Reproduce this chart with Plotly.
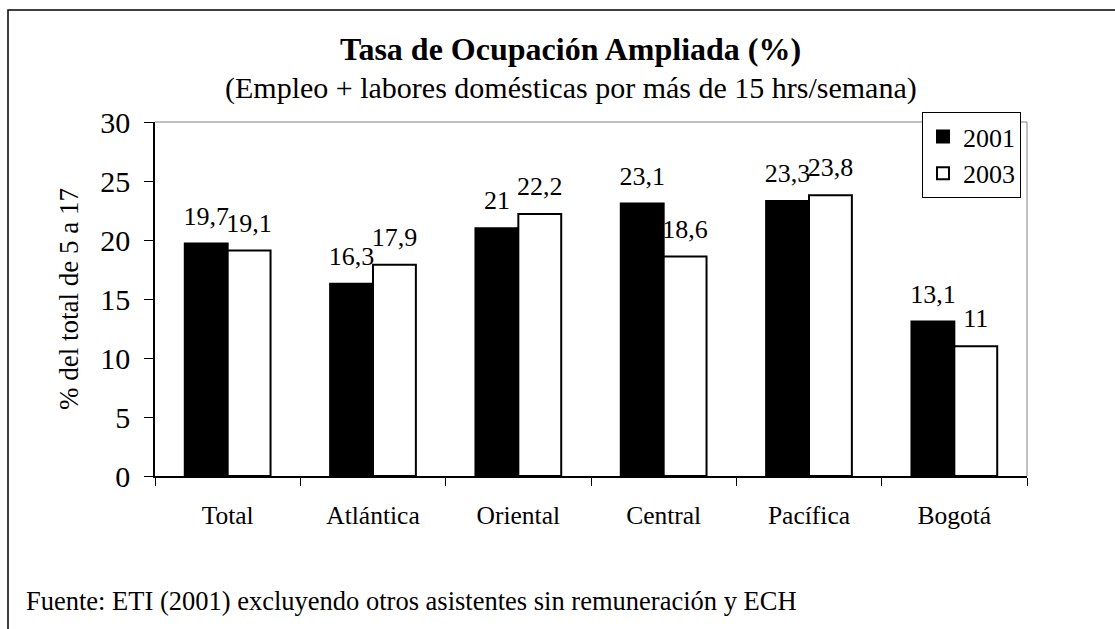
import plotly.graph_objects as go

categories = ["Total", "Atlántica", "Oriental", "Central", "Pacífica", "Bogotá"]
values_2001 = [19.7, 16.3, 21.0, 23.1, 23.3, 13.1]
values_2003 = [19.1, 17.9, 22.2, 18.6, 23.8, 11.0]
labels_2001 = ["19,7", "16,3", "21", "23,1", "23,3", "13,1"]
labels_2003 = ["19,1", "17,9", "22,2", "18,6", "23,8", "11"]
y_ticks = [0, 5, 10, 15, 20, 25, 30]

FONT = "Liberation Serif"
W, H = 1115, 629
L, R, T, B = 155, 88, 122, 153
PW, PH = W - L - R, H - T - B


def px(x):
    return (x - L) / PW


def py(y):
    return (H - B - y) / PH


fig = go.Figure()
fig.add_trace(go.Bar(
    x=categories, y=values_2001, name="2001",
    offsetgroup="a", alignmentgroup="g",
    marker=dict(color="black", line=dict(color="black", width=2)),
))
fig.add_trace(go.Bar(
    x=categories, y=values_2003, name="2003",
    offsetgroup="b", alignmentgroup="g",
    marker=dict(color="white", line=dict(color="black", width=2)),
))
for vals, labs, grp in [(values_2001, labels_2001, "a"), (values_2003, labels_2003, "b")]:
    fig.add_trace(go.Scatter(
        x=categories, y=vals, text=labs, mode="markers+text",
        offsetgroup=grp, alignmentgroup="g",
        marker=dict(size=18, opacity=0, color="white"),
        textposition="top center", cliponaxis=False, showlegend=False,
        hoverinfo="skip",
        textfont=dict(family=FONT, size=26, color="black"),
    ))

fig.update_layout(
    width=W, height=H,
    margin=dict(l=L, r=R, t=T, b=B),
    paper_bgcolor="white", plot_bgcolor="white",
    barmode="group", bargap=0.41, bargroupgap=0,
    scattermode="group", scattergap=0.41,
    font=dict(family=FONT, color="black"),
    showlegend=True,
    legend=dict(
        x=px(922), y=py(112), xanchor="left", yanchor="top",
        bordercolor="black", borderwidth=1, bgcolor="white",
        font=dict(family=FONT, size=26, color="black"),
        tracegroupgap=0, itemwidth=30,
    ),
    xaxis=dict(
        showline=True, linecolor="black", linewidth=1.5,
        ticks="outside", tickson="boundaries", ticklen=8, tickcolor="black",
        tickfont=dict(family=FONT, size=25.5, color="black"),
        ticklabelstandoff=16,
        showgrid=False, zeroline=False,
    ),
    yaxis=dict(
        range=[0, 30], tickvals=y_ticks, ticktext=[str(v) for v in y_ticks],
        showline=True, linecolor="black", linewidth=1.5,
        ticks="outside", ticklen=9, tickcolor="black",
        tickfont=dict(family=FONT, size=30, color="black"),
        ticklabelstandoff=8,
        showgrid=False, zeroline=False,
        title=dict(text="% del total de 5 a 17", standoff=14,
                   font=dict(family=FONT, size=27, color="black")),
    ),
    shapes=[
        dict(type="rect", xref="paper", yref="paper",
             x0=px(8), y0=py(660), x1=px(1140), y1=py(10),
             line=dict(color="black", width=1.5), layer="below"),
        dict(type="line", xref="paper", yref="paper",
             x0=0, y0=1, x1=1, y1=1, line=dict(color="#808080", width=1)),
        dict(type="line", xref="paper", yref="paper",
             x0=1, y0=0, x1=1, y1=1, line=dict(color="#808080", width=1)),
    ],
    annotations=[
        dict(text="<b>Tasa de Ocupación Ampliada (%)</b>", xref="paper", yref="paper",
             x=px(570), y=py(49), xanchor="center", yanchor="middle", showarrow=False,
             font=dict(family=FONT, size=32, color="black")),
        dict(text="(Empleo + labores domésticas por más de 15 hrs/semana)", xref="paper", yref="paper",
             x=px(571), y=py(88), xanchor="center", yanchor="middle", showarrow=False,
             font=dict(family=FONT, size=30, color="black")),
        dict(text="Fuente: ETI (2001) excluyendo otros asistentes sin remuneración y ECH",
             xref="paper", yref="paper",
             x=px(24), y=py(601), xanchor="left", yanchor="middle", showarrow=False,
             font=dict(family=FONT, size=26.5, color="black")),
    ],
)

fig.write_html("out.html", config={"displayModeBar": False},
               post_script="document.body.style.margin='0';")
